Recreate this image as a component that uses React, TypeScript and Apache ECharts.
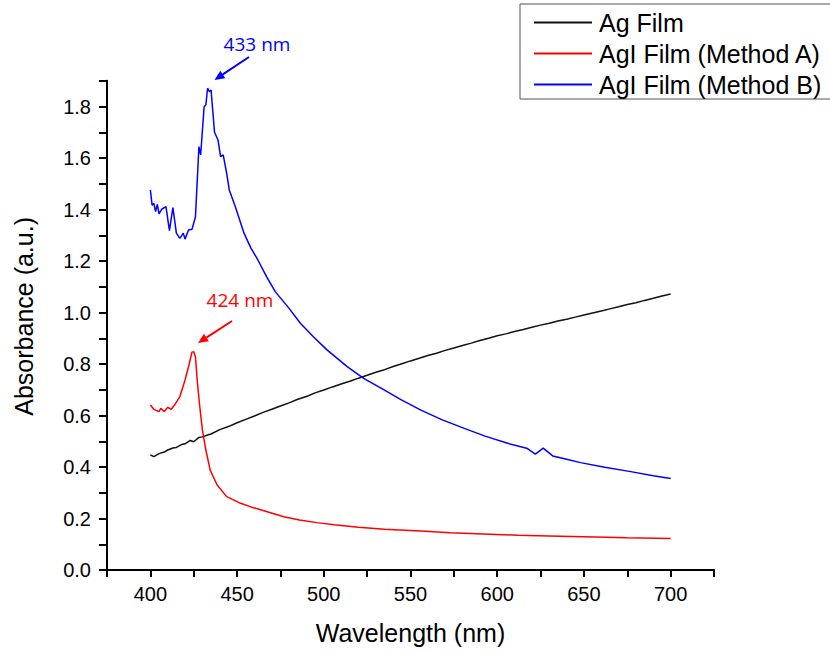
import React, { useEffect, useRef } from "react";
import * as echarts from "echarts";

const agWl = [400,402,405,408,410,413,415,418,420,423,425,428,430,433,435,440,445,450,455,460,465,470,475,480,485,490,495,500,505,510,515,520,525,530,535,540,545,550,555,560,565,570,575,580,585,590,595,600,605,610,615,620,625,630,635,640,645,650,655,660,665,670,675,680,685,690,695,700];
const agAbs = [0.447,0.440,0.452,0.458,0.466,0.474,0.476,0.487,0.490,0.503,0.498,0.515,0.517,0.524,0.528,0.545,0.557,0.572,0.585,0.598,0.612,0.624,0.637,0.649,0.663,0.674,0.688,0.699,0.711,0.722,0.733,0.745,0.756,0.768,0.778,0.790,0.801,0.812,0.822,0.833,0.842,0.853,0.862,0.872,0.881,0.891,0.900,0.910,0.917,0.926,0.934,0.943,0.951,0.958,0.967,0.974,0.982,0.990,0.998,1.006,1.014,1.022,1.031,1.038,1.047,1.055,1.064,1.072];

const aWl = [400,402,405,406,408,410,412,414,417,420,422.5,424,425,426,427,428.5,430,432,434.5,438.5,444,452,458,464,477,486,496,506,520,535,556,573,592,612,630,650,675,700];
const aAbs = [0.641,0.624,0.615,0.628,0.615,0.632,0.624,0.641,0.673,0.738,0.803,0.846,0.848,0.828,0.738,0.634,0.544,0.466,0.388,0.330,0.285,0.259,0.245,0.233,0.207,0.194,0.184,0.176,0.166,0.158,0.151,0.145,0.140,0.135,0.132,0.129,0.125,0.122];

const bWl = [400,401,402,403,404,405,406.7,409,411,413,415,417,419,420,422,424,426,428,429,431,432,433,434,435,437,439,440.5,442,444,445.5,449,454,458,462,467,472,480,486.5,494,502,513.5,523,533,545,556,568,581,593,606,617,622,626.5,632,640,648,662,677,690,700];
const bAbs = [1.476,1.417,1.424,1.392,1.420,1.383,1.402,1.411,1.318,1.407,1.308,1.288,1.308,1.285,1.320,1.323,1.372,1.644,1.612,1.799,1.806,1.871,1.858,1.864,1.700,1.670,1.605,1.612,1.540,1.476,1.411,1.308,1.250,1.204,1.139,1.081,1.016,0.958,0.906,0.854,0.790,0.744,0.706,0.660,0.621,0.584,0.550,0.520,0.492,0.473,0.450,0.473,0.443,0.430,0.417,0.399,0.382,0.366,0.355];

const seriesNames = ["Ag Film", "AgI Film (Method A)", "AgI Film (Method B)"];
const seriesColors = ["#111111", "#ff0000", "#0000ff"];

const pair = (xs: number[], ys: number[]) => xs.map((x, i) => [x, ys[i]]);

function arrow(x1: number, y1: number, x2: number, y2: number, color: string) {
  const dx = x2 - x1, dy = y2 - y1;
  const len = Math.sqrt(dx * dx + dy * dy);
  const ux = dx / len, uy = dy / len;
  const hl = 10, hw = 4.5;
  const bx = x2 - ux * hl, by = y2 - uy * hl;
  const px = -uy * hw, py = ux * hw;
  return [
    { type: "line", shape: { x1, y1, x2: bx, y2: by }, style: { stroke: color, lineWidth: 2 }, z: 100 },
    { type: "polygon", shape: { points: [[x2, y2], [bx + px, by + py], [bx - px, by - py]] }, style: { fill: color }, z: 100 },
  ];
}

export default function App() {
  const ref = useRef<HTMLDivElement>(null);
  useEffect(() => {
    if (!ref.current) return;
    const chart = echarts.init(ref.current, null, { renderer: "svg" });
    const font = "'Liberation Sans', Arial, sans-serif";
    chart.setOption({
      animation: false,
      textStyle: { fontFamily: font },
      grid: { left: 107, right: 116, top: 80.75, bottom: 81, containLabel: false, outerBoundsMode: "none" },
      legend: {
        orient: "vertical",
        left: 520,
        top: 4,
        padding: [6, 10, 2, 14],
        itemGap: 6,
        itemWidth: 58,
        itemHeight: 2,
        icon: "rect",
        borderColor: "#555",
        borderWidth: 1,
        textStyle: { fontSize: 25, color: "#000", fontFamily: font, padding: [0, 0, 0, 2] },
        data: seriesNames,
      },
      xAxis: {
        type: "value",
        min: 375,
        max: 725,
        interval: 25,
        name: "Wavelength (nm)",
        nameLocation: "middle",
        nameGap: 50,
        nameTextStyle: { fontSize: 25, color: "#000", fontFamily: font },
        axisLine: { lineStyle: { color: "#000", width: 2 } },
        axisTick: { length: 7, lineStyle: { color: "#000", width: 2 } },
        axisLabel: {
          fontSize: 20,
          color: "#000",
          margin: 14,
          formatter: (v: number) => (v % 50 === 0 && v >= 400 && v <= 700 ? String(v) : ""),
        },
        splitLine: { show: false },
      },
      yAxis: {
        type: "value",
        min: 0,
        max: 1.9,
        interval: 0.1,
        name: "Absorbance (a.u.)",
        nameLocation: "middle",
        nameGap: 71,
        nameTextStyle: { fontSize: 25, color: "#000", fontFamily: font, padding: [0, 0, 0, 18] },
        axisLine: { lineStyle: { color: "#000", width: 2 } },
        axisTick: { length: 8, lineStyle: { color: "#000", width: 2 } },
        axisLabel: {
          fontSize: 20,
          color: "#000",
          margin: 16,
          formatter: (v: number) => (Math.round(v * 10) % 2 === 0 ? v.toFixed(1) : ""),
        },
        splitLine: { show: false },
      },
      series: [
        { name: seriesNames[0], type: "line", data: pair(agWl, agAbs), symbol: "none", color: seriesColors[0], lineStyle: { width: 1.5, color: seriesColors[0] } },
        { name: seriesNames[1], type: "line", data: pair(aWl, aAbs), symbol: "none", color: seriesColors[1], lineStyle: { width: 1.5, color: seriesColors[1] } },
        { name: seriesNames[2], type: "line", data: pair(bWl, bAbs), symbol: "none", color: seriesColors[2], lineStyle: { width: 1.5, color: seriesColors[2] } },
      ],
      graphic: [
        { type: "text", x: 257, y: 44, z: 100, style: { text: "433 nm", fill: "#0000ff", font: "19px 'Open Sans', sans-serif", textAlign: "center", textVerticalAlign: "middle" } },
        { type: "text", x: 240, y: 300, z: 100, style: { text: "424 nm", fill: "#ff0000", font: "19px 'Open Sans', sans-serif", textAlign: "center", textVerticalAlign: "middle" } },
        ...arrow(249, 57, 214.5, 80, "#0000ff"),
        ...arrow(232, 321, 198, 343, "#ff0000"),
      ],
    });
    return () => chart.dispose();
  }, []);
  return <div ref={ref} style={{ width: 830, height: 651, position: "absolute", left: 0, top: 0 }} />;
}
